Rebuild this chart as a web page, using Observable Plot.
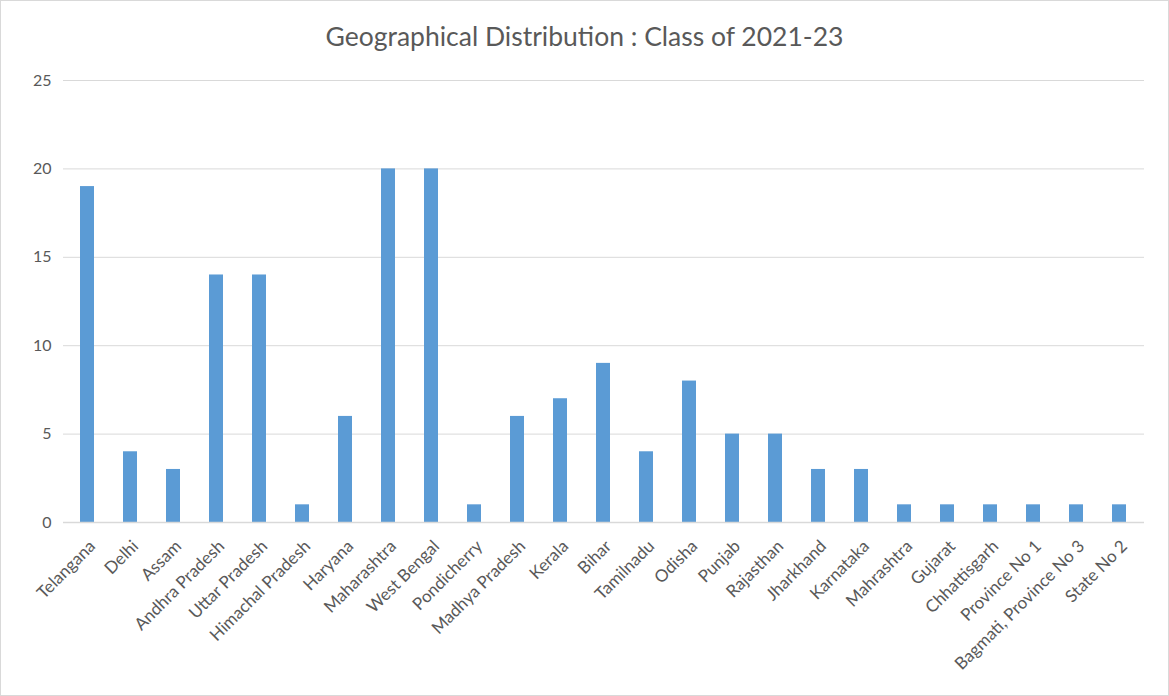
<!DOCTYPE html>
<html>
<head>
<meta charset="utf-8">
<script src="https://cdn.jsdelivr.net/npm/d3@7"></script>
<script src="https://cdn.jsdelivr.net/npm/@observablehq/plot@0.6"></script>
<style>
  html, body { margin: 0; padding: 0; background: #fff; }
  #wrap { width: 1167px; height: 694px; border: 1px solid #d9d9d9; position: relative; overflow: hidden; font-family: Lato, "Open Sans", sans-serif; }
  #title { height: 59px; line-height: 70px; text-align: center; font-size: 26.5px; color: #595959; }
</style>
</head>
<body>
<div id="wrap">
  <div id="title">Geographical Distribution : Class of 2021-23</div>
  <div id="chart"></div>
</div>
<script>
const states = ["Telangana","Delhi","Assam","Andhra Pradesh","Uttar Pradesh","Himachal Pradesh","Haryana","Maharashtra","West Bengal","Pondicherry","Madhya Pradesh","Kerala","Bihar","Tamilnadu","Odisha","Punjab","Rajasthan","Jharkhand","Karnataka","Mahrashtra","Gujarat","Chhattisgarh","Province No 1","Bagmati, Province No 3","State No 2"];
const counts = [19,4,3,14,14,1,6,20,20,1,6,7,9,4,8,5,5,3,3,1,1,1,1,1,1];
const yTicks = [0,5,10,15,20,25];

const data = states.map((s, i) => ({state: s, count: counts[i]}));

const chart = Plot.plot({
  width: 1167,
  height: 634,
  marginTop: 20,
  marginLeft: 62,
  marginRight: 24,
  marginBottom: 172,
  style: {fontFamily: "Lato, 'Open Sans', sans-serif", fontSize: "16px", color: "#595959", background: "#fff"},
  x: {domain: states, paddingInner: 0.67, paddingOuter: 0.335, label: null},
  y: {domain: [0, 25], label: null},
  marks: [
    Plot.gridY(yTicks, {stroke: "#d9d9d9", strokeOpacity: 1}),
    Plot.barY(data, {x: "state", y: "count", fill: "#5B9BD5"}),
    Plot.ruleY([0], {stroke: "#d9d9d9", strokeWidth: 1.5}),
    Plot.axisY(yTicks, {tickSize: 0, tickPadding: 12, fontSize: 16, fill: "#595959"}),
    Plot.axisX({tickSize: 0, tickRotate: -45, tickPadding: 21, dx: 5, fontSize: 17, fill: "#595959"})
  ]
});
document.getElementById("chart").appendChild(chart);
</script>
</body>
</html>
